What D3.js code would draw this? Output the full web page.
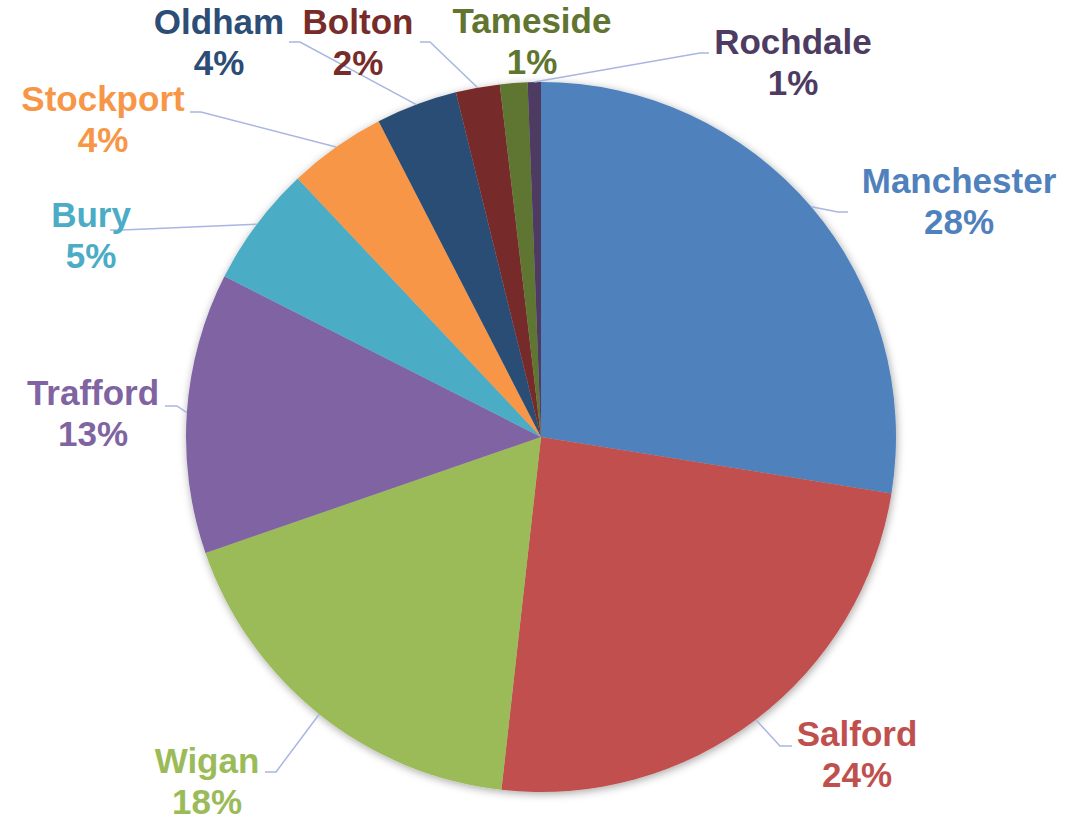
<!DOCTYPE html>
<html>
<head>
<meta charset="utf-8">
<script src="https://cdn.jsdelivr.net/npm/d3@7"></script>
<style>
  html, body { margin: 0; padding: 0; background: #ffffff; }
  svg { display: block; }
  text { font-family: "Liberation Sans", Arial, sans-serif; font-weight: bold; }
</style>
</head>
<body>
<svg id="chart" width="1079" height="820"></svg>
<script>
// ---- data ----
const categories = ["Manchester", "Salford", "Wigan", "Trafford", "Bury", "Stockport", "Oldham", "Bolton", "Tameside", "Rochdale"];
const values     = [27.5, 24.2, 17.9, 12.75, 5.5, 4.45, 3.7, 2.0, 1.25, 0.6];
const pctLabels  = ["28%", "24%", "18%", "13%", "5%", "4%", "4%", "2%", "1%", "1%"];
const colors     = ["#4F81BD", "#C0504D", "#9BBB59", "#8064A2", "#4BACC6", "#F79646", "#2C4D75", "#772C2A", "#5F7530", "#4D3B62"];

// ---- layout (label placement, not data) ----
const W = 1079, H = 820;
const cx = 541, cy = 437, R = 355;
const fontSize = 35, lineGap = 41;
// label centre x, first-line baseline y, leader elbow & end (null = no leader)
const labelLayout = [
  { x: 959, y: 193, elbow: [838, 212], end: [848, 212] },
  { x: 857, y: 746, elbow: [780, 746], end: [792, 746] },
  { x: 207, y: 773, elbow: [276, 772], end: [265, 772] },
  { x: 93,  y: 405, elbow: [177, 406], end: [165, 406] },
  { x: 91,  y: 227, elbow: [122, 230], end: [110, 230] },
  { x: 103, y: 111, elbow: [201, 112], end: [190, 112] },
  { x: 219, y: 34,  elbow: [300, 42],  end: [289, 42] },
  { x: 358, y: 34,  elbow: [430, 42],  end: [420, 42] },
  { x: 532, y: 33,  elbow: null,       end: null },
  { x: 793, y: 54,  elbow: [700, 53],  end: [709, 53] }
];

const svg = d3.select("#chart");

const defs = svg.append("defs");
const filt = defs.append("filter").attr("id", "shadow")
  .attr("x", "-10%").attr("y", "-10%").attr("width", "120%").attr("height", "120%");
filt.append("feDropShadow")
  .attr("dx", 1).attr("dy", 2).attr("stdDeviation", 4)
  .attr("flood-color", "#000").attr("flood-opacity", 0.35);

const pie = d3.pie().sort(null).value(d => d.value);
const data = categories.map((c, i) => ({ name: c, value: values[i], pct: pctLabels[i], color: colors[i], lay: labelLayout[i] }));
const arcs = pie(data);

const arc = d3.arc().innerRadius(0).outerRadius(R);

const g = svg.append("g").attr("transform", `translate(${cx},${cy})`);
const slices = g.append("g").attr("filter", "url(#shadow)");
slices.selectAll("path")
  .data(arcs)
  .join("path")
  .attr("d", arc)
  .attr("fill", d => d.data.color);

// leader lines
const edgeArc = d3.arc().innerRadius(R).outerRadius(R);
const lineGen = d3.line();
svg.append("g").selectAll("path")
  .data(arcs.filter(d => d.data.lay.elbow))
  .join("path")
  .attr("d", d => {
    const mid = (d.startAngle + d.endAngle) / 2;
    const p0 = [cx + R * Math.sin(mid), cy - R * Math.cos(mid)];
    return lineGen([p0, d.data.lay.elbow, d.data.lay.end]);
  })
  .attr("fill", "none")
  .attr("stroke", "#A9B6E2")
  .attr("stroke-width", 1.5);

// labels
const lbl = svg.append("g").selectAll("text")
  .data(arcs)
  .join("text")
  .attr("text-anchor", "middle")
  .attr("font-size", fontSize)
  .attr("fill", d => d.data.color);
lbl.append("tspan")
  .attr("x", d => d.data.lay.x)
  .attr("y", d => d.data.lay.y)
  .text(d => d.data.name);
lbl.append("tspan")
  .attr("x", d => d.data.lay.x)
  .attr("y", d => d.data.lay.y + lineGap)
  .text(d => d.data.pct);
</script>
</body>
</html>
